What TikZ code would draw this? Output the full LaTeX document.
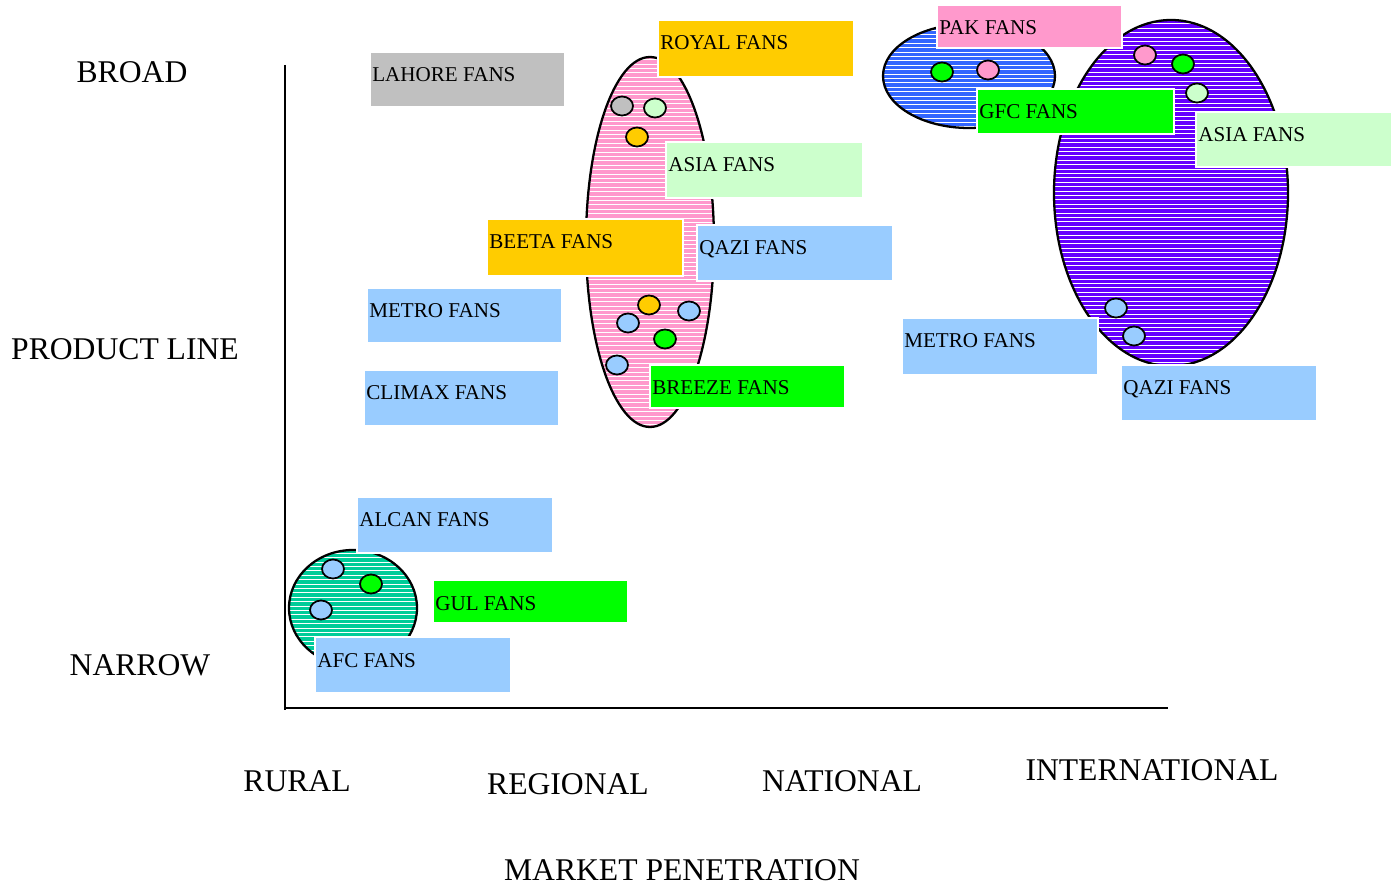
\documentclass[tikz,border=0pt]{standalone}
\usepackage{fontspec}
\setmainfont{Liberation Serif}
\usetikzlibrary{calc}

\definecolor{fgray}{HTML}{C0C0C0}
\definecolor{fgold}{HTML}{FFCC00}
\definecolor{fmint}{HTML}{CCFFCC}
\definecolor{fsky}{HTML}{99CCFF}
\definecolor{fgreen}{HTML}{00FF00}
\definecolor{fpink}{HTML}{FF99CC}
\definecolor{fblue}{HTML}{3366FF}
\definecolor{fviolet}{HTML}{6600FF}
\definecolor{fteal}{HTML}{00CC99}

% hatched ellipse: center x, center y, x radius, y radius, colour
\newcommand{\hatchell}[5]{%
  \begin{scope}
    \clip (#1,#2) ellipse [x radius=#3, y radius=#4];
    \fill[#5] (#1,#2) ellipse [x radius=#3, y radius=#4];
    \foreach \hy in {-200,-195.6,...,200}
      \draw[white,line width=0.4pt] (#1-#3,#2+\hy) -- (#1+#3,#2+\hy);
  \end{scope}
  \draw[line width=1.3pt] (#1,#2) ellipse [x radius=#3, y radius=#4];
}

% label box: name, x1, y1, x2, y2, colour, text
\newcommand{\fanbox}[7]{%
  \node[fanbox,fill=#6,anchor=north west,
        minimum width={(#4-#2)*0.02cm},minimum height={(#5-#3)*0.02cm}]
        (#1) at (#2,#3) {};
  \node[boxtext] (#1-t) at (#2+2,#3+30) {#7};
}

\begin{document}
\begin{tikzpicture}[x=0.02cm,y=-0.02cm,
    fanbox/.style={draw=white,line width=1.2pt,inner sep=0pt,outer sep=0pt},
    boxtext/.style={anchor=base west,inner sep=0pt,font=\fontsize{12}{14}\selectfont},
    axislabel/.style={inner sep=0pt,font=\fontsize{18}{21}\selectfont},
    dot/.style={draw=black,line width=1pt}]
  \useasboundingbox (0,0) rectangle (1397,888);

  % axes
  \coordinate (top) at (285,65);
  \coordinate (origin) at (285,708);
  \coordinate (right) at (1168,708);
  \draw[line width=1.1pt] (top) -- (285,710);
  \draw[line width=1.1pt] (284,708) -- (right);

  % axis texts
  \node[axislabel] (broad)  at (132,72)  {BROAD};
  \node[axislabel] (pline)  at (125,349) {PRODUCT LINE};
  \node[axislabel] (narrow) at (140,665) {NARROW};
  \node[axislabel] (rural)  at (297,781) {RURAL};
  \node[axislabel] (regio)  at (568,784) {REGIONAL};
  \node[axislabel] (natio)  at (842,781) {NATIONAL};
  \node[axislabel] (inter)  at (1152,770) {INTERNATIONAL};
  \node[axislabel] (market) at (682,870) {MARKET PENETRATION};

  % market clusters
  \hatchell{650}{242}{64}{185}{fpink}
  \hatchell{969}{76}{86}{52}{fblue}
  \hatchell{1171}{193}{117}{173}{fviolet}
  \hatchell{353}{608}{64}{58}{fteal}

  % brand dots
  \foreach \P/\c in {(622,106)/fgray,(655,108)/fmint,(637,137)/fgold,
                     (649,305)/fgold,(689,311)/fsky,(628,323)/fsky,
                     (665,339)/fgreen,(617,365)/fsky,
                     (942,72)/fgreen,(988,70)/fpink,
                     (1145,55)/fpink,(1183,64)/fgreen,(1197,93)/fmint,
                     (1116,308)/fsky,(1134,336)/fsky,
                     (333,569)/fsky,(371,584)/fgreen,(321,610)/fsky}{
    \filldraw[dot,fill=\c] \P ellipse [x radius=11, y radius=9.5];
  }

  % brand labels
  \fanbox{lahore}{370}{52}{565}{107}{fgray}{LAHORE FANS}
  \fanbox{royal}{658}{20}{854}{77}{fgold}{ROYAL FANS}
  \fanbox{asia}{666}{142}{863}{198}{fmint}{ASIA FANS}
  \fanbox{beeta}{487}{219}{683}{276}{fgold}{BEETA FANS}
  \fanbox{qazi}{697}{225}{893}{281}{fsky}{QAZI FANS}
  \fanbox{metro}{367}{288}{562}{343}{fsky}{METRO FANS}
  \fanbox{climax}{364}{370}{559}{426}{fsky}{CLIMAX FANS}
  \fanbox{breeze}{650}{365}{845}{408}{fgreen}{BREEZE FANS}
  \fanbox{alcan}{357}{497}{553}{553}{fsky}{ALCAN FANS}
  \fanbox{gul}{433}{580}{628}{623}{fgreen}{GUL FANS}
  \fanbox{afc}{315}{637}{511}{693}{fsky}{AFC FANS}
  \fanbox{pak}{937}{5}{1122}{48}{fpink}{PAK FANS}
  \fanbox{gfc}{977}{89}{1174}{134}{fgreen}{GFC FANS}
  \fanbox{asiaint}{1196}{112}{1392}{167}{fmint}{ASIA FANS}
  \fanbox{metroint}{902}{318}{1098}{375}{fsky}{METRO FANS}
  \fanbox{qaziint}{1121}{365}{1317}{421}{fsky}{QAZI FANS}
\end{tikzpicture}
\end{document}
